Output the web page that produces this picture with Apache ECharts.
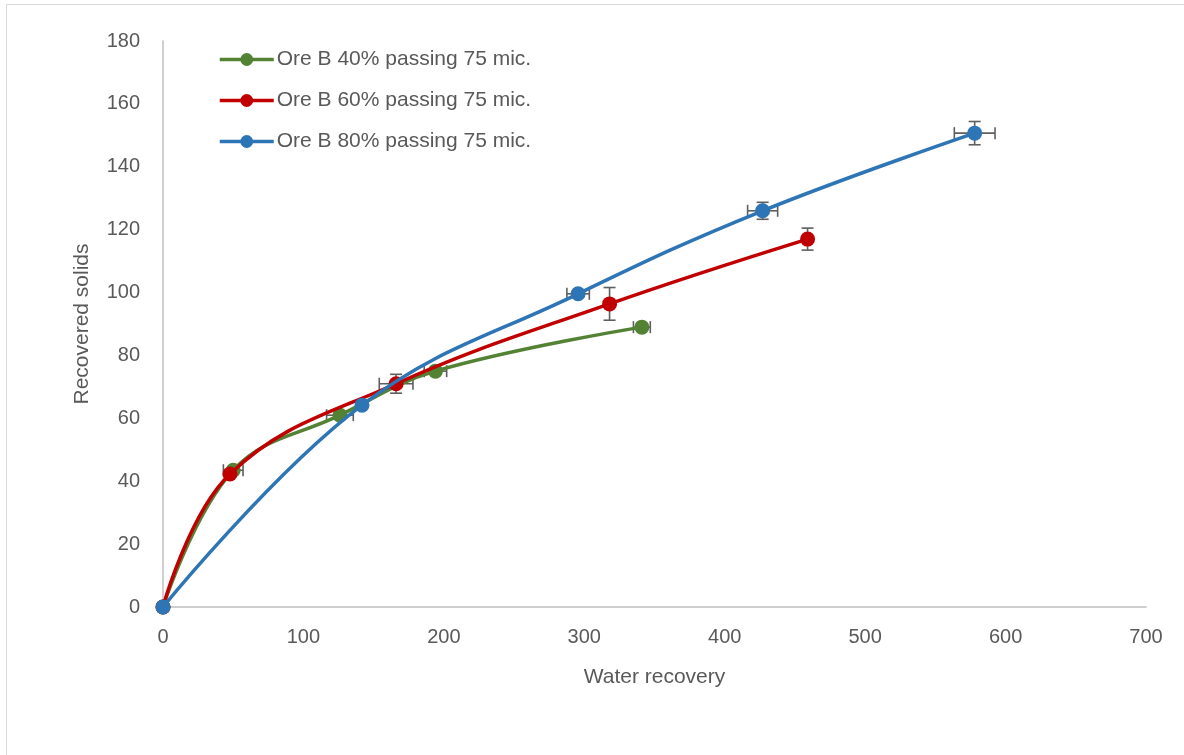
<!DOCTYPE html>
<html>
<head>
<meta charset="utf-8">
<script src="https://cdn.jsdelivr.net/npm/echarts@6/dist/echarts.min.js"></script>
<style>
html,body{margin:0;padding:0;background:#fff;}
#c{width:1184px;height:755px;}
</style>
</head>
<body>
<div id="c"></div>
<script>
// ---- data ----
const seriesNames = ['Ore B 40% passing 75 mic.', 'Ore B 60% passing 75 mic.', 'Ore B 80% passing 75 mic.'];
const colors = ['#548235', '#C00000', '#2E75B6'];

const ore40X = [0, 50, 126, 194, 341];
const ore40Y = [0, 43.5, 61, 75, 89];
const ore40XErr = [0, 7, 9.5, 8, 6];
const ore40YErr = [0, 0, 0, 0, 0];

const ore60X = [0, 47.7, 166, 318, 459];
const ore60Y = [0, 42.3, 71, 96.4, 117];
const ore60XErr = [0, 0, 12, 0, 0];
const ore60YErr = [0, 0, 3, 5.2, 3.5];

const ore80X = [0, 141.7, 295.6, 427, 578];
const ore80Y = [0, 64.2, 99.6, 126, 150.7];
const ore80XErr = [0, 0, 8, 10.7, 14.5];
const ore80YErr = [0, 0, 1, 2.7, 3.7];

const xTicks = [0, 100, 200, 300, 400, 500, 600, 700];
const yTicks = [0, 20, 40, 60, 80, 100, 120, 140, 160, 180];

const allX = [ore40X, ore60X, ore80X];
const allY = [ore40Y, ore60Y, ore80Y];
const allXE = [ore40XErr, ore60XErr, ore80XErr];
const allYE = [ore40YErr, ore60YErr, ore80YErr];

const FONT = 'Liberation Sans';
const TXT = '#595959';

const series = [];
for (let s = 0; s < 3; s++) {
  const errData = allX[s].map((x, i) => [x, allY[s][i], allXE[s][i], allYE[s][i]]);
  series.push({
    type: 'custom',
    name: seriesNames[s] + ' err',
    data: errData,
    encode: {x: 0, y: 1},
    z: 1,
    silent: true,
    renderItem: function (params, api) {
      const x = api.value(0), y = api.value(1), xe = api.value(2), ye = api.value(3);
      const children = [];
      const st = {stroke: '#5f5f5f', lineWidth: 1.6};
      const cap = 6;
      if (xe > 0) {
        const a = api.coord([x - xe, y]), b = api.coord([x + xe, y]);
        children.push({type: 'line', shape: {x1: a[0], y1: a[1], x2: b[0], y2: b[1]}, style: st});
        children.push({type: 'line', shape: {x1: a[0], y1: a[1] - cap, x2: a[0], y2: a[1] + cap}, style: st});
        children.push({type: 'line', shape: {x1: b[0], y1: b[1] - cap, x2: b[0], y2: b[1] + cap}, style: st});
      }
      if (ye > 0) {
        const a = api.coord([x, y - ye]), b = api.coord([x, y + ye]);
        children.push({type: 'line', shape: {x1: a[0], y1: a[1], x2: b[0], y2: b[1]}, style: st});
        children.push({type: 'line', shape: {x1: a[0] - cap, y1: a[1], x2: a[0] + cap, y2: a[1]}, style: st});
        children.push({type: 'line', shape: {x1: b[0] - cap, y1: b[1], x2: b[0] + cap, y2: b[1]}, style: st});
      }
      return {type: 'group', children: children};
    }
  });
}
for (let s = 0; s < 3; s++) {
  series.push({
    type: 'line',
    name: seriesNames[s],
    data: allX[s].map((x, i) => [x, allY[s][i]]),
    smooth: 0.4,
    symbol: 'circle',
    symbolSize: 15,
    showSymbol: true,
    z: 2 + s,
    itemStyle: {color: colors[s]},
    lineStyle: {color: colors[s], width: 3.5},
    emphasis: {disabled: true}
  });
}

const chart = echarts.init(document.getElementById('c'));
chart.setOption({
  animation: false,
  backgroundColor: '#fff',
  textStyle: {fontFamily: FONT},
  graphic: [{
    type: 'rect', silent: true, z: -10,
    shape: {x: 6.5, y: 4.5, width: 1300, height: 900},
    style: {fill: 'none', stroke: '#d9d9d9', lineWidth: 1}
  }],
  grid: {left: 163, right: 38, top: 41, bottom: 148, containLabel: false},
  legend: {
    data: seriesNames,
    orient: 'vertical',
    left: 218,
    top: 49,
    padding: 0,
    itemWidth: 54,
    itemHeight: 16,
    itemGap: 20,
    lineStyle: {width: 3.5},
    textStyle: {fontFamily: FONT, fontSize: 21, color: TXT, padding: [0, 0, 0, -2]}
  },
  xAxis: {
    type: 'value',
    min: 0, max: 700, interval: 100,
    name: 'Water recovery',
    nameLocation: 'middle',
    nameGap: 60,
    nameTextStyle: {fontFamily: FONT, fontSize: 21, color: TXT},
    axisLine: {show: true, lineStyle: {color: '#bfbfbf', width: 1.5}},
    axisTick: {show: false},
    splitLine: {show: false},
    axisLabel: {fontFamily: FONT, fontSize: 20, color: TXT, margin: 20,
      formatter: v => xTicks.includes(v) ? String(v) : ''}
  },
  yAxis: {
    type: 'value',
    min: 0, max: 180, interval: 20,
    name: 'Recovered solids',
    nameLocation: 'middle',
    nameGap: 70,
    nameTextStyle: {fontFamily: FONT, fontSize: 21, color: TXT},
    axisLine: {show: true, lineStyle: {color: '#bfbfbf', width: 1.5}},
    axisTick: {show: false},
    splitLine: {show: false},
    axisLabel: {fontFamily: FONT, fontSize: 20, color: TXT, margin: 23,
      formatter: v => yTicks.includes(v) ? String(v) : ''}
  },
  series: series
});
</script>
</body>
</html>
